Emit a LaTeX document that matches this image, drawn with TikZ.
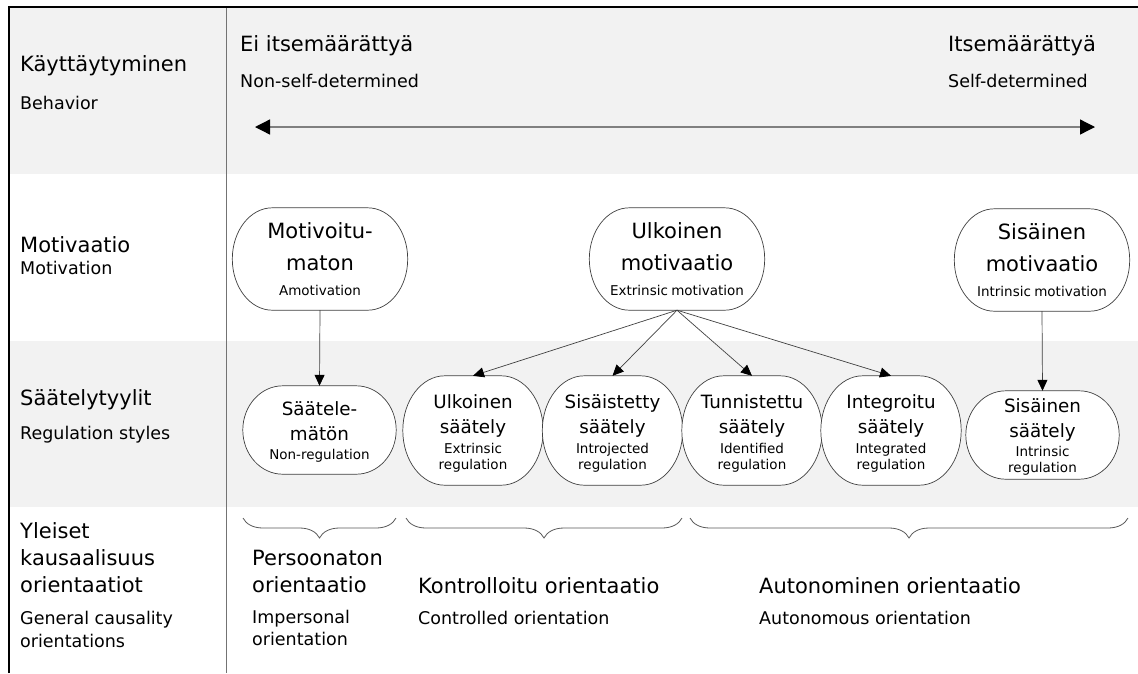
\documentclass[tikz,border=0pt]{standalone}
\usepackage{fontspec}
\setmainfont{DejaVu Sans}
\usepackage{xcolor}
\usepackage{tikz}
\usetikzlibrary{arrows.meta, decorations.pathreplacing, calc, backgrounds}

\definecolor{bandgray}{HTML}{F2F2F2}
\newcommand{\headfont}{\fontsize{21}{27}\selectfont}
\newcommand{\subfont}{\fontsize{17.5}{22}\selectfont}
\newcommand{\bigtitle}{\fontsize{21}{32}\selectfont}
\newcommand{\regtitle}{\fontsize{18.3}{25}\selectfont}
\newcommand{\motnote}{\fontsize{13.5}{25}\selectfont}
\newcommand{\regnote}{\fontsize{13.5}{16.5}\selectfont}
\newcommand{\topstrut}[1]{\rule{0pt}{#1}}

% outline with half-ellipse ends round a named node
\newcommand{\ovalround}[2]{%
  \path[oval] let \p1=(#1.north west), \p2=(#1.south east),
      \n1={#2}, \n2={(\y1-\y2)/2}, \n3={0.5523*#2}, \n4={0.5523*(\y1-\y2)/2} in
    (\x1+\n1,\y1) -- (\x2-\n1,\y1)
    .. controls (\x2-\n1+\n3,\y1) and (\x2,\y1-\n2+\n4) .. (\x2,\y1-\n2)
    .. controls (\x2,\y1-\n2-\n4) and (\x2-\n1+\n3,\y2) .. (\x2-\n1,\y2)
    -- (\x1+\n1,\y2)
    .. controls (\x1+\n1-\n3,\y2) and (\x1,\y1-\n2-\n4) .. (\x1,\y1-\n2)
    .. controls (\x1,\y1-\n2+\n4) and (\x1+\n1-\n3,\y1) .. (\x1+\n1,\y1) -- cycle;}

\pgfdeclarelayer{bands}
\pgfsetlayers{bands,background,main}

\tikzset{
  head/.style   = {anchor=base west, inner sep=0pt, font=\headfont, text=black},
  sub/.style    = {anchor=base west, inner sep=0pt, font=\subfont, text=black},
  ovalnode/.style = {inner sep=0pt, align=center, text=black,
                     execute at begin node=\parindent0pt},
  motnode/.style = {ovalnode, minimum width=175pt, minimum height=102pt, text width=172pt},
  regnode/.style = {ovalnode, minimum width=140pt, minimum height=109pt, text width=138pt},
  regwide/.style = {ovalnode, minimum width=153pt, minimum height=88pt, text width=150pt},
  oval/.style   = {draw=black!75, fill=white, line width=0.7pt},
  arr/.style    = {-{Triangle[length=11pt,width=10pt,color=black]}, draw=black!75, line width=0.7pt},
  spanarr/.style= {{Triangle[length=15pt,width=15pt,color=black]}-{Triangle[length=15pt,width=15pt,color=black]},
                   draw=black!50, line width=1.3pt},
  brc/.style    = {decorate, decoration={brace, mirror, amplitude=20pt},
                   draw=black!65, line width=0.8pt},
}

\begin{document}
\begin{tikzpicture}[x=1pt, y=-1pt]
  \useasboundingbox (0,0) rectangle (1138,673);

  % ── bands, frame and column rule ───────────────────────────────
  \begin{pgfonlayer}{bands}
    \fill[bandgray] (9,7) rectangle (1138,174);
    \fill[bandgray] (9,341) rectangle (1138,507);
    \draw[black!55, line width=0.9pt] (226,7) -- (226,673);
    \draw[black, line width=2pt] (9,673) |- (1138,7);
  \end{pgfonlayer}

  % ── left column ─────────────────────────────────────────────────
  \node[head] (kay) at (20,71) {Käyttäytyminen};
  \node[sub]  (beh) at (20,109) {Behavior};
  \node[head] (mot) at (20,252) {Motivaatio};
  \node[sub]  (moe) at (20,274) {Motivation};
  \node[head] (saa) at (20,405) {Säätelytyylit};
  \node[sub]  (reg) at (20,439) {Regulation styles};
  \node[head] (yle1) at (20,538) {Yleiset};
  \node[head] (yle2) at (20,565) {kausaalisuus};
  \node[head] (yle3) at (20,592) {orientaatiot};
  \node[sub]  (gco1) at (20,624) {General causality};
  \node[sub]  (gco2) at (20,647) {orientations};

  % ── behaviour row ───────────────────────────────────────────────
  \node[head] (eiit) at (240,51) {Ei itsemäärättyä};
  \node[sub]  (nsd)  at (240,87) {Non-self-determined};
  \node[head] (itse) at (948,51) {Itsemäärättyä};
  \node[sub]  (sd)   at (948,87) {Self-determined};
  \coordinate (lend) at (255,127);
  \coordinate (rend) at (1095,127);
  \draw[spanarr] (lend) -- (rend);

  % ── motivation nodes ────────────────────────────────────────────
  \node[motnode] (amot) at (320,259)
    {{\bigtitle Motivoitu-\\maton\par}{\motnote Amotivation\par}};
  \node[motnode] (extm) at (677,259)
    {{\bigtitle Ulkoinen\\motivaatio\par}{\motnote Extrinsic motivation\par}};
  \node[motnode] (intm) at (1042,260)
    {{\bigtitle Sisäinen\\motivaatio\par}{\motnote Intrinsic motivation\par}};

  % ── regulation nodes ────────────────────────────────────────────
  \node[regwide] (nonr) at (319.5,430)
    {{\regtitle\topstrut{17pt}Säätele-\\mätön\par}\vspace{2.5pt}{\regnote Non-regulation\par}};
  \node[regnode] (extr) at (473,430.5)
    {{\regtitle\topstrut{20pt}Ulkoinen\\säätely\par}\vspace{3pt}{\regnote Extrinsic\\regulation\par}};
  \node[regnode] (intj) at (612.5,430.5)
    {{\regtitle\topstrut{20pt}Sisäistetty\\säätely\par}\vspace{3pt}{\regnote Introjected\\regulation\par}};
  \node[regnode] (iden) at (752,430.5)
    {{\regtitle\topstrut{20pt}Tunnistettu\\säätely\par}\vspace{3pt}{\regnote Identified\\regulation\par}};
  \node[regnode] (intg) at (891,430.5)
    {{\regtitle\topstrut{20pt}Integroitu\\säätely\par}\vspace{3pt}{\regnote Integrated\\regulation\par}};
  \node[regwide] (intr) at (1042.5,435)
    {{\regtitle\topstrut{18pt}Sisäinen\\säätely\par}\vspace{2pt}{\regnote Intrinsic\\regulation\par}};

  \begin{pgfonlayer}{background}
    \ovalround{amot}{40pt}
    \ovalround{extm}{40pt}
    \ovalround{intm}{40pt}
    \ovalround{nonr}{40pt}
    \ovalround{extr}{42pt}
    \ovalround{intj}{42pt}
    \ovalround{iden}{42pt}
    \ovalround{intg}{42pt}
    \ovalround{intr}{40pt}
  \end{pgfonlayer}

  % ── arrows ──────────────────────────────────────────────────────
  \draw[arr] (amot.south) -- (nonr.north);
  \draw[arr] (extm.south) -- (extr.north);
  \draw[arr] (extm.south) -- (intj.north);
  \draw[arr] (extm.south) -- (iden.north);
  \draw[arr] (extm.south) -- (intg.north);
  \draw[arr] (intm.south) -- (intr.north);

  % ── orientations ────────────────────────────────────────────────
  \coordinate (b1l) at (243,518);  \coordinate (b1r) at (396,518);
  \coordinate (b2l) at (406,518);  \coordinate (b2r) at (682,518);
  \coordinate (b3l) at (690,518);  \coordinate (b3r) at (1128,518);
  \draw[brc] (b1l) -- (b1r);
  \draw[brc] (b2l) -- (b2r);
  \draw[brc] (b3l) -- (b3r);

  \node[head] (pers1) at (252,565) {Persoonaton};
  \node[head] (pers2) at (252,592) {orientaatio};
  \node[sub]  (impe1) at (252,623) {Impersonal};
  \node[sub]  (impe2) at (252,645) {orientation};
  \node[head] (kont) at (418,593) {Kontrolloitu orientaatio};
  \node[sub]  (cont) at (418,624) {Controlled orientation};
  \node[head] (auto) at (759,593) {Autonominen orientaatio};
  \node[sub]  (autoe) at (759,624) {Autonomous orientation};

\end{tikzpicture}
\end{document}
